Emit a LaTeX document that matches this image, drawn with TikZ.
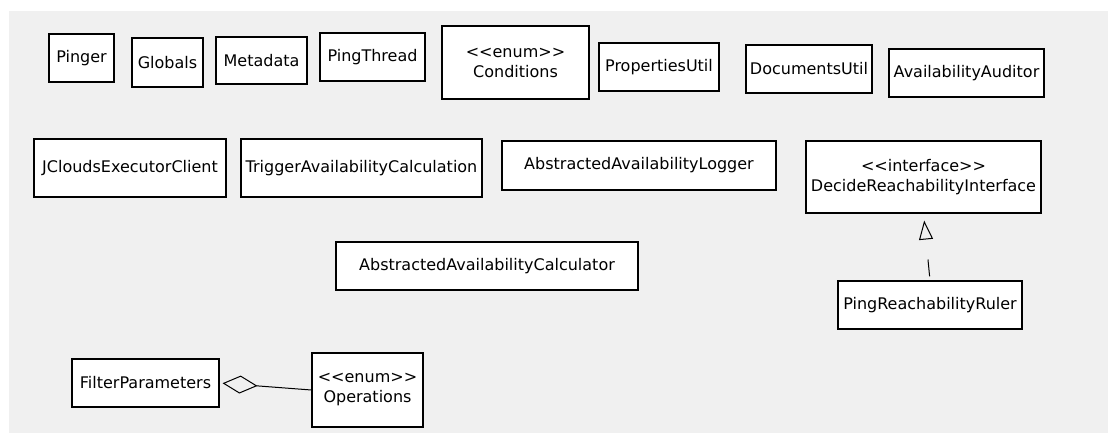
\documentclass[tikz,border=0pt]{standalone}
\usepackage{fontspec}
\setmainfont{DejaVu Sans}
\usetikzlibrary{arrows.meta}
\definecolor{bg}{HTML}{F0F0F0}
\newcommand\stereo[1]{<\kern0pt<#1>\kern0pt>}
\begin{document}
\begin{tikzpicture}[x=1pt,y=-1pt,
  cls/.style={draw=black, fill=white, line width=1.2pt, inner sep=0pt,
    font=\fontsize{16}{20}\selectfont, align=center},
  conn/.style={draw=black, line width=1pt}]
\useasboundingbox (0,0) rectangle (1108,434);
\fill[bg] (9,11) rectangle (1108,433);
% row 1
\node[cls, minimum width=65pt, minimum height=48pt] (pinger) at (81.5,58) {Pinger};
\node[cls, minimum width=71pt, minimum height=49pt] (globals) at (167.5,62.5) {Globals};
\node[cls, minimum width=91pt, minimum height=47pt] (metadata) at (261.5,60.5) {Metadata};
\node[cls, minimum width=105pt, minimum height=48pt] (pingthread) at (372.5,57) {PingThread};
\node[cls, minimum width=147pt, minimum height=73pt] (conditions) at (515.5,62.5) {\stereo{enum}\\Conditions};
\node[cls, minimum width=120pt, minimum height=48pt] (propsutil) at (659,67) {PropertiesUtil};
\node[cls, minimum width=126pt, minimum height=48pt] (docsutil) at (809,69) {DocumentsUtil};
\node[cls, minimum width=155pt, minimum height=48pt] (auditor) at (966.5,73) {AvailabilityAuditor};
% row 2
\node[cls, minimum width=192pt, minimum height=58pt] (jclouds) at (130,168) {JCloudsExecutorClient};
\node[cls, minimum width=241pt, minimum height=58pt] (trigger) at (361.5,168) {TriggerAvailabilityCalculation};
\node[cls, minimum width=274pt, minimum height=49pt] (logger) at (639,165.5) {AbstractedAvailabilityLogger};
\node[cls, minimum width=235pt, minimum height=72pt] (iface) at (923.5,177) {\stereo{interface}\\DecideReachabilityInterface};
% row 3
\node[cls, minimum width=302pt, minimum height=48pt] (calc) at (487,266) {AbstractedAvailabilityCalculator};
\node[cls, minimum width=184pt, minimum height=48pt] (ruler) at (930,305) {PingReachabilityRuler};
% row 4
\node[cls, minimum width=147pt, minimum height=48pt] (filter) at (145.5,383) {FilterParameters};
\node[cls, minimum width=111pt, minimum height=74pt] (operations) at (367.5,390) {\stereo{enum}\\Operations};
% connectors
\draw[conn, -{Diamond[open, length=35pt, width=18pt, line width=1pt]}, shorten >=3pt]
  (operations.west) -- (filter.east);
\draw[conn, dash pattern=on 0pt off 4pt on 17pt off 60pt,
  -{Triangle[open, length=19pt, width=14pt, line width=1pt]}, shorten >=7pt]
  (ruler.north) -- (iface.south);
\end{tikzpicture}
\end{document}
